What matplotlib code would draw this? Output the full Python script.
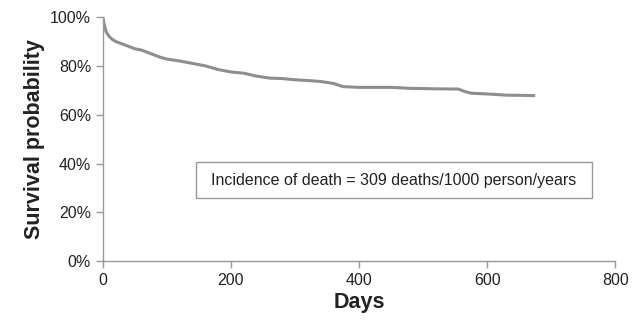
import matplotlib.pyplot as plt
from matplotlib.patches import Rectangle
from matplotlib.ticker import PercentFormatter

plt.rcParams['font.family'] = ['Liberation Sans', 'DejaVu Sans']

# Kaplan-Meier curve
days = [0, 2, 5, 10, 15, 20, 30, 40, 50, 60, 70, 80, 90, 100, 120, 140, 160, 180,
        200, 220, 240, 260, 280, 300, 320, 340, 360, 375, 400, 450, 480, 520, 555,
        565, 575, 600, 630, 660, 675]
survival = [100, 97, 94, 92, 90.8, 90, 89, 88, 87, 86.5, 85.5, 84.5, 83.5, 82.8,
            82, 81, 80, 78.5, 77.5, 77, 75.8, 75, 74.8, 74.3, 74, 73.6, 72.8, 71.5,
            71.2, 71.2, 70.8, 70.6, 70.5, 69.5, 68.8, 68.5, 68.0, 67.9, 67.8]
note = "Incidence of death = 309 deaths/1000 person/years"

grey = '#999999'
fig = plt.figure(figsize=(6.35, 3.22), dpi=100)
ax = fig.add_axes([0.162, 0.189, 0.807, 0.758])
ax.plot(days, survival, color='#8e8e8e', lw=2.2, solid_capstyle='butt')

ax.set_xlim(0, 800)
ax.set_ylim(0, 100)
ax.set_xticks([0, 200, 400, 600, 800])
ax.set_yticks(range(0, 101, 20))
ax.yaxis.set_major_formatter(PercentFormatter(decimals=0))
for s in ['top', 'right']:
    ax.spines[s].set_visible(False)
for s in ['left', 'bottom']:
    ax.spines[s].set_color(grey)
    ax.spines[s].set_linewidth(1)
ax.tick_params(colors=grey, labelcolor='#222222', labelsize=11.5, length=5, width=1)

ax.set_xlabel("Days", fontsize=15.5, fontweight='bold', color='#222222', labelpad=3)
ax.set_ylabel("Survival probability", fontsize=15.5, fontweight='bold', color='#222222', labelpad=4)

# annotation box
ax.add_patch(Rectangle((0.182, 0.258), 0.773, 0.148, transform=ax.transAxes,
                       fc='white', ec=grey, lw=1))
ax.text(0.568, 0.332, note, transform=ax.transAxes, ha='center', va='center',
        fontsize=11.5, color='#222222')

plt.savefig("out.png", dpi=100)
